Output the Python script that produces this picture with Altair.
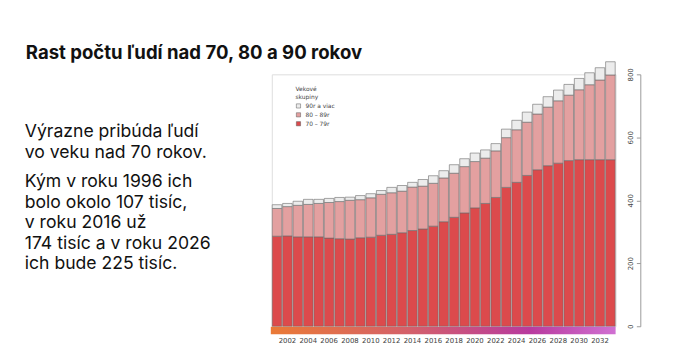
import altair as alt
import pandas as pd

years = list(range(2001, 2034))
v70 = [286, 287, 284, 284, 284, 280, 278, 277, 281, 283, 289, 292, 297, 304, 309, 318, 332,
       346, 360, 376, 390, 409, 441, 457, 479, 497, 510, 518, 526, 529, 529, 529, 529]
v80 = [88, 93, 100, 103, 106, 113, 118, 123, 121, 125, 130, 132, 132, 138, 136, 136, 139,
       140, 147, 147, 144, 148, 158, 167, 169, 177, 186, 198, 208, 222, 238, 253, 269]
v90 = [12, 10, 13, 16, 13, 13, 13, 10, 13, 13, 12, 17, 18, 15, 21, 24, 23,
       27, 25, 27, 26, 23, 27, 30, 32, 31, 33, 34, 34, 36, 38, 39, 42]
groups = ["90r a viac", "80 – 89r", "70 – 79r"]
colors = ["#ececec", "#e3a0a0", "#dc4a4c"]
y_ticks = [0, 200, 400, 600, 800]
x_labels = list(range(2002, 2034, 2))

title = "Rast počtu ľudí nad 70, 80 a 90 rokov"
para1 = ["Výrazne pribúda ľudí", "vo veku nad 70 rokov."]
para2 = ["Kým v roku 1996 ich", "bolo okolo 107 tisíc,", "v roku 2016 už",
         "174 tisíc a v roku 2026", "ich bude 225 tisíc."]

rows = []
for i, y in enumerate(years):
    rows.append({"rok": y, "skupina": "70 – 79r", "hodnota": v70[i], "poradie": 0})
    rows.append({"rok": y, "skupina": "80 – 89r", "hodnota": v80[i], "poradie": 1})
    rows.append({"rok": y, "skupina": "90r a viac", "hodnota": v90[i], "poradie": 2})
df = pd.DataFrame(rows)

W, H = 348, 255
FONT = "Inter"

bars = alt.Chart(df).mark_bar(stroke="#6a6a6a", strokeWidth=0.6, clip=False).encode(
    x=alt.X("rok:O", title=None,
            scale=alt.Scale(paddingInner=0.08, paddingOuter=0.04),
            axis=alt.Axis(values=x_labels, domain=False, ticks=False, labelAngle=0,
                          labelFontSize=7, labelColor="#444", labelPadding=10,
                          labelFont="DejaVu Sans")),
    y=alt.Y("hodnota:Q", stack="zero", title=None,
            scale=alt.Scale(domain=[0, 800], nice=False),
            axis=alt.Axis(orient="left", offset=-(W + 25), values=y_ticks, grid=False,
                          domainColor="#999", tickColor="#999", tickSize=4,
                          labelAngle=270, labelAlign="center", labelBaseline="bottom",
                          labelFontSize=7, labelColor="#444", labelPadding=3,
                          labelFont="DejaVu Sans")),
    color=alt.Color("skupina:N",
                    scale=alt.Scale(domain=groups, range=colors),
                    legend=alt.Legend(title=["Vekové", "skupiny"], orient="none",
                                      legendX=24, legendY=12,
                                      titleFontSize=6, titleFontWeight="normal",
                                      titleColor="#444", labelFontSize=6,
                                      labelColor="#444", symbolType="square",
                                      symbolSize=18, symbolStrokeColor="#555",
                                      symbolStrokeWidth=0.5, rowPadding=1,
                                      titlePadding=3, labelFont="DejaVu Sans",
                                      titleFont="DejaVu Sans")),
    order=alt.Order("poradie:Q", sort="ascending"),
)

strip = alt.Chart(pd.DataFrame({"a": [0]})).mark_rect(
    clip=False,
    color=alt.LinearGradient(
        gradient="linear", x1=0, x2=1, y1=0, y2=0,
        stops=[alt.GradientStop(color="#ea7a36", offset=0),
               alt.GradientStop(color="#d4606a", offset=0.4),
               alt.GradientStop(color="#b83a9e", offset=0.75),
               alt.GradientStop(color="#d070d2", offset=1)])
).encode(x=alt.value(-1), x2=alt.value(W), y=alt.value(H + 0.5), y2=alt.value(H + 8))

title_mark = alt.Chart(pd.DataFrame({"t": [title]})).mark_text(
    align="left", baseline="alphabetic", fontSize=18.8, fontWeight="bold",
    font=FONT, color="#111", clip=False
).encode(x=alt.value(-249), y=alt.value(-16), text="t:N")

p1 = alt.Chart(pd.DataFrame({"t": [para1]})).mark_text(
    align="left", baseline="alphabetic", fontSize=17.8, font=FONT, color="#111",
    lineHeight=20.7, clip=False
).encode(x=alt.value(-250), y=alt.value(63.5), text="t")

p2 = alt.Chart(pd.DataFrame({"t": [para2]})).mark_text(
    align="left", baseline="alphabetic", fontSize=17.8, font=FONT, color="#111",
    lineHeight=20.7, clip=False
).encode(x=alt.value(-250), y=alt.value(114.5), text="t")

chart = alt.layer(bars, strip, title_mark, p1, p2).properties(
    width=W, height=H,
    autosize=alt.AutoSizeParams(type="none"),
    padding={"left": 267, "top": 65, "right": 51, "bottom": 32},
).configure_view(stroke=None).configure(background="white")

chart.save("out.html", embed_options={"renderer": "svg", "actions": False})
